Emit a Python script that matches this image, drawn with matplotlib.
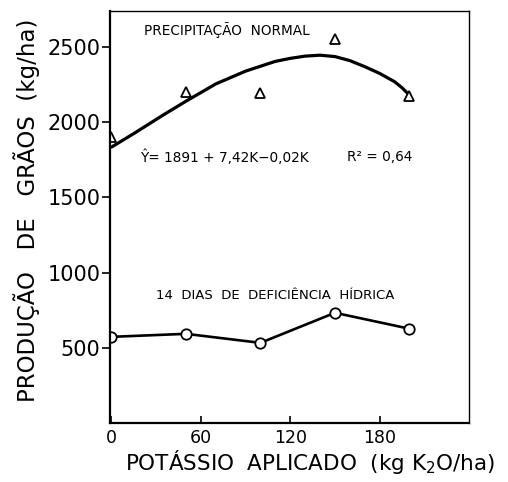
import matplotlib
matplotlib.use("Agg")

import matplotlib.pyplot as plt

# Potassium doses (kg K2O/ha)
doses = [0, 50, 100, 150, 200]

# Normal rainfall: observed yields (triangles)
normal_obs = [1900, 2200, 2195, 2555, 2175]

# Normal rainfall: fitted curve
curve_k = [0, 15, 35, 50, 70, 90, 110, 120, 130, 140, 150, 160, 170, 180, 190, 195, 200]
curve_y = [1835, 1925, 2050, 2140, 2255, 2340, 2405, 2425, 2440, 2446, 2437, 2410,
           2370, 2325, 2270, 2230, 2180]

# 14 days of water deficit (circles)
deficit = [573, 593, 533, 733, 627]

xticks = [0, 60, 120, 180]
yticks = [500, 1000, 1500, 2000, 2500]


def main() -> None:
    plt.rcParams["font.family"] = ["DejaVu Sans"]

    fig = plt.figure(figsize=(5.08, 4.82), dpi=100)
    ax = fig.add_axes([110 / 508, 1 - 423 / 482, 359 / 508, 412 / 482])

    ax.plot(curve_k, curve_y, color="black", linewidth=2.3, solid_capstyle="round",
            solid_joinstyle="round")
    ax.plot(doses, normal_obs, linestyle="none", marker="^", markersize=6.5,
            markerfacecolor="white", markeredgecolor="black", markeredgewidth=1.3)
    ax.plot(doses, deficit, color="black", linewidth=1.9, marker="o", markersize=7.5,
            markerfacecolor="white", markeredgecolor="black", markeredgewidth=1.3)

    ax.set_xlim(-1, 240)
    ax.set_ylim(0, 2740)
    ax.set_xticks(xticks)
    ax.set_yticks(yticks)

    ax.tick_params(axis="x", direction="in", length=5, width=1.2, labelsize=12.5, pad=4)
    ax.tick_params(axis="y", direction="out", length=6, width=1.2, labelsize=15, pad=1)

    for side in ("left", "bottom"):
        ax.spines[side].set_linewidth(1.6)
    for side in ("top", "right"):
        ax.spines[side].set_linewidth(1.0)

    ax.text(22, 2613, "PRECIPITAÇÃO  NORMAL", fontsize=9.8, va="center")
    ax.text(19, 1769, "Ŷ= 1891 + 7,42K−0,02K", fontsize=9.8, va="center")
    ax.text(158, 1769, "R² = 0,64", fontsize=9.8, va="center")
    ax.text(30, 851, "14  DIAS  DE  DEFICIÊNCIA  HÍDRICA", fontsize=9.5, va="center")

    fig.text(310 / 508, 1 - 462 / 482, "POTÁSSIO  APLICADO  (kg K$_2$O/ha)",
             fontsize=15.5, ha="center", va="center")
    fig.text(27 / 508, 1 - 210 / 482, "PRODUÇÃO   DE   GRÃOS  (kg/ha)",
             fontsize=16.5, ha="center", va="center", rotation=90)

    fig.savefig("out.png", dpi=100)
    plt.close(fig)


if __name__ == "__main__":
    main()
